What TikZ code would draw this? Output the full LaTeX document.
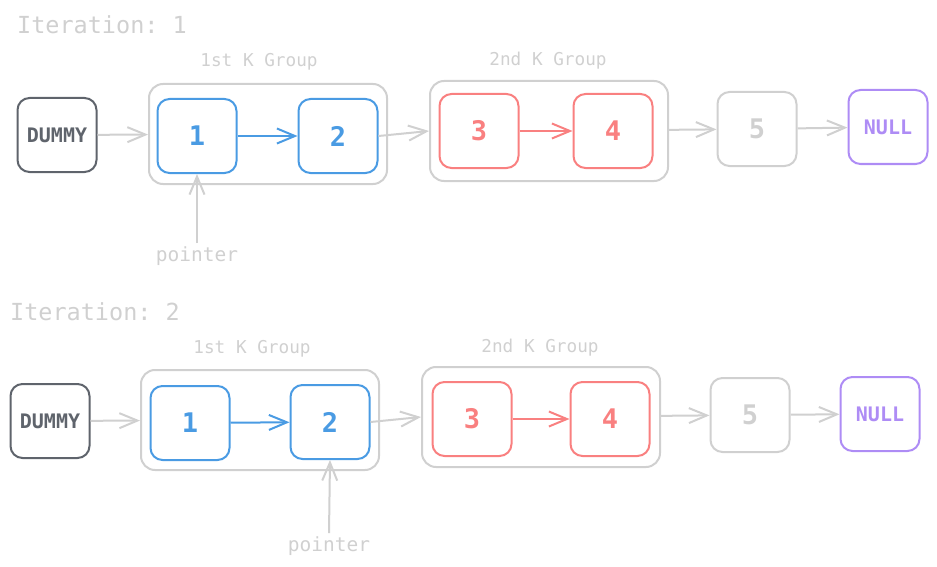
\documentclass[tikz,border=0pt]{standalone}
\usepackage{fontspec}
\setmonofont{DejaVu Sans Mono}
\usetikzlibrary{arrows.meta}
\definecolor{lgray}{HTML}{D0D0D0}
\definecolor{dgray}{HTML}{5F646C}
\definecolor{nblue}{HTML}{4A9BE3}
\definecolor{nred}{HTML}{F98080}
\definecolor{npurple}{HTML}{AE8CF5}
\tikzset{
  box/.style={draw, rounded corners=12pt, line width=2pt, minimum width=79pt,
    minimum height=74pt, font=\ttfamily\bfseries\fontsize{27}{27}\selectfont},
  wordbox/.style={box, font=\ttfamily\bfseries\fontsize{20}{20}\selectfont},
  groupbox/.style={draw=lgray, rounded corners=14pt, line width=2pt,
    minimum width=238pt, minimum height=100pt},
  link/.style={draw=lgray, line width=2pt, -{Straight Barb[length=18pt,width=15pt]}},
  title/.style={text=lgray, font=\ttfamily\fontsize{23.5}{23.5}\selectfont},
  small/.style={text=lgray, font=\ttfamily\fontsize{17.7}{17.7}\selectfont},
  ptrlabel/.style={text=lgray, font=\ttfamily\fontsize{19.5}{19.5}\selectfont}
}
\begin{document}
\begin{tikzpicture}[x=1pt,y=-1pt]
\useasboundingbox (0,0) rectangle (937,567);
% iteration 1
\node[title] (it1) at (102,25) {Iteration: 1};
\node[small] (lg1a) at (259,62) {1st K Group};
\node[small] (lg1b) at (548,61) {2nd K Group};
\node[groupbox] (g1a) at (268,134) {};
\node[groupbox] (g1b) at (549,131) {};
\node[wordbox, draw=dgray, text=dgray] (d1) at (57,135) {DUMMY};
\node[box, draw=nblue, text=nblue] (a1) at (197,136) {1};
\node[box, draw=nblue, text=nblue] (b1) at (338,136) {2};
\node[box, draw=nred, text=nred] (c1) at (479,131) {3};
\node[box, draw=nred, text=nred] (e1) at (613,131) {4};
\node[box, draw=lgray, text=lgray] (f1) at (757,129) {5};
\node[wordbox, draw=npurple, text=npurple] (z1) at (888,127) {NULL};
\node[ptrlabel] (p1) at (197,256) {pointer};
\draw[link] (d1) -- (g1a);
\draw[link, draw=nblue] (a1) -- (b1);
\draw[link] (b1.east) -- (g1b.west);
\draw[link, draw=nred] (c1) -- (e1);
\draw[link] (g1b) -- (f1);
\draw[link] (f1) -- (z1);
\draw[link] (p1.north) -- (a1.south);
% iteration 2
\node[title] (it2) at (95,312) {Iteration: 2};
\node[small] (lg2a) at (252,349) {1st K Group};
\node[small] (lg2b) at (540,348) {2nd K Group};
\node[groupbox] (g2a) at (260,420) {};
\node[groupbox] (g2b) at (541,417) {};
\node[wordbox, draw=dgray, text=dgray] (d2) at (50,421) {DUMMY};
\node[box, draw=nblue, text=nblue] (a2) at (190,423) {1};
\node[box, draw=nblue, text=nblue] (b2) at (330,422) {2};
\node[box, draw=nred, text=nred] (c2) at (472,419) {3};
\node[box, draw=nred, text=nred] (e2) at (610,419) {4};
\node[box, draw=lgray, text=lgray] (f2) at (750,415) {5};
\node[wordbox, draw=npurple, text=npurple] (z2) at (880,414) {NULL};
\node[ptrlabel] (p2) at (329,546) {pointer};
\draw[link] (d2) -- (g2a);
\draw[link, draw=nblue] (a2) -- (b2);
\draw[link] (b2.east) -- (g2b.west);
\draw[link, draw=nred] (c2) -- (e2);
\draw[link] (g2b) -- (f2);
\draw[link] (f2) -- (z2);
\draw[link] (p2.north) -- (b2.south);
\end{tikzpicture}
\end{document}
